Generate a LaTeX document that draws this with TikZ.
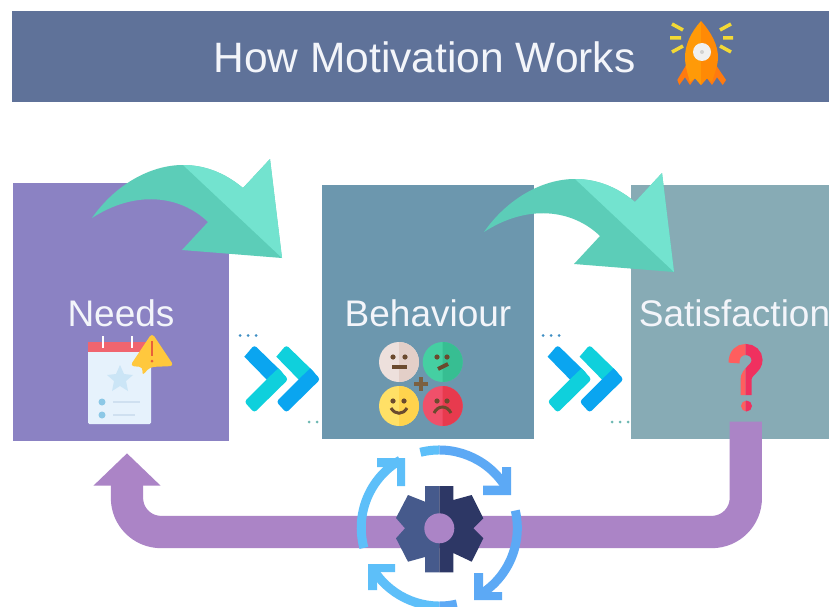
\documentclass[tikz,border=0pt]{standalone}
\usepackage{fontspec}
\setmainfont{Liberation Sans}
\usetikzlibrary{arrows.meta}
\definecolor{headerc}{HTML}{5F7299}
\definecolor{needc}{HTML}{8B82C3}
\definecolor{behavc}{HTML}{6C97AE}
\definecolor{satc}{HTML}{87ABB5}
\definecolor{loopc}{HTML}{AB84C6}
\definecolor{tealD}{HTML}{5CCDB8}
\definecolor{tealL}{HTML}{73E3CF}
\definecolor{chevB}{HTML}{0AA5F0}
\definecolor{chevT}{HTML}{0FD0DC}
\definecolor{ringL}{HTML}{5DBFF9}
\definecolor{ringR}{HTML}{5CA9F5}
\definecolor{gearL}{HTML}{465A8C}
\definecolor{gearR}{HTML}{2D3765}
\definecolor{txt}{HTML}{F3F5FA}
\definecolor{feat}{HTML}{6B4A2E}
\definecolor{dotB}{HTML}{3F8FC4}
\definecolor{dotT}{HTML}{6DB8B2}
\definecolor{rayc}{HTML}{F3D935}
\definecolor{rockL}{HTML}{FF9A08}
\definecolor{rockR}{HTML}{FF8A05}
\definecolor{rockF}{HTML}{FF7A10}
\definecolor{paper}{HTML}{E6F2FC}
\definecolor{calred}{HTML}{F0656F}
\definecolor{starc}{HTML}{CBE5F6}
\definecolor{bullet}{HTML}{8CC8E6}
\definecolor{rowc}{HTML}{CFE0F0}
\definecolor{warnc}{HTML}{FFC83D}
\definecolor{warnx}{HTML}{E8603A}
\definecolor{plusc}{HTML}{7B6040}
\definecolor{qL}{HTML}{FF5E5E}
\definecolor{qR}{HTML}{F0305F}
\definecolor{neutL}{HTML}{EDE0DC}
\definecolor{neutR}{HTML}{E3CFC8}
\definecolor{grnL}{HTML}{45CFA2}
\definecolor{grnR}{HTML}{37BE92}
\definecolor{yelL}{HTML}{FFE066}
\definecolor{yelR}{HTML}{FFD34D}
\definecolor{redL}{HTML}{F0506A}
\definecolor{redR}{HTML}{E83A4E}
\tikzset{
  panel/.style={rectangle,inner sep=0pt,outer sep=0pt,draw=none},
  label/.style={inner sep=0pt,text=txt,anchor=base,font=\fontsize{37}{37}\selectfont},
  dotty/.style={circle,inner sep=0pt,minimum size=3pt},
  loopline/.style={draw=loopc,line width=32.3pt,rounded corners=34pt,-{Triangle[length=32.4pt,width=65.3pt]}},
  ringline/.style={line width=9pt},
  featline/.style={draw=feat,line width=3pt},
  rayline/.style={draw=rayc,line width=3.5pt},
}
\newcommand{\bentarrow}{%
  \fill[tealD] (92,218) .. controls (115,185) and (150,165) .. (183,165)
     .. controls (205,165) and (225,173) .. (243,188)
     -- (270,159) -- (282,258) -- (182,250) -- (208,222)
     .. controls (180,195) and (135,190) .. (92,218) -- cycle;
  \fill[tealL] (183,165) .. controls (205,165) and (225,173) .. (243,188)
     -- (270,159) -- (282,258) -- cycle;
}
\newcommand{\onechev}[2]{%
  \fill[#1,rounded corners=3pt] (244.3,356.7) -- (254.3,345) -- (284,374) [sharp corners] -- (272,385) -- cycle;
  \fill[#2] (266.7,379.3) -- (278.3,368.3) [rounded corners=3pt] -- (288.3,379.3) -- (254.3,412.7) -- (244.3,401.7) [sharp corners] -- cycle;
}
\newcommand{\ringparts}[1]{%
  \draw[ringline,#1] (420.4,452.3) arc[start angle=-104,end angle=-33,radius=78];
  \fill[#1] (502,467) -- (511,467) -- (511,495) -- (483,495) -- (483,485.5) -- (502,485.5) -- cycle;
  \draw[ringline,#1] (515.3,510.5) arc[start angle=-13,end angle=60,radius=78];
  \fill[#1] (474,573) -- (483,573) -- (483,592) -- (502,592) -- (502,600) -- (474,600) -- cycle;
  \draw[ringline,#1] (363.9,547.9) arc[start angle=165,end angle=240,radius=78];
  \fill[#1] (377,458) -- (405,458) -- (405,486) -- (397,486) -- (397,467) -- (377,467) -- cycle;
  \draw[ringline,#1] (374.4,571.3) arc[start angle=146.3,end angle=77,radius=78];
  \fill[#1] (368,564) -- (395,564) -- (395,572) -- (377,572) -- (377,590) -- (368,590) -- cycle;
}
\newcommand{\facedisc}[4]{%
  \fill[#3] (#1,#2) circle[radius=20];
  \begin{scope}\clip (#1,#2-21) rectangle (#1+21,#2+21);\fill[#4] (#1,#2) circle[radius=20];\end{scope}
}
\begin{document}
\begin{tikzpicture}[x=1pt,y=-1pt]
\useasboundingbox (0,0) rectangle (829,607);
\clip (0,0) rectangle (829,607);
\fill[white] (0,0) rectangle (829,607);

% header
\node[panel,fill=headerc,minimum width=817pt,minimum height=91pt,anchor=north west] (header) at (12,11) {};
\node[label,font=\fontsize{42.5}{42.5}\selectfont] (title) at (424.5,73) {How Motivation Works};

% panels
\node[panel,fill=needc,minimum width=216pt,minimum height=258pt,anchor=north west] (needs) at (13,183) {};
\node[panel,fill=behavc,minimum width=212pt,minimum height=254pt,anchor=north west] (behaviour) at (322,185) {};
\node[panel,fill=satc,minimum width=198pt,minimum height=254pt,anchor=north west] (satisfaction) at (631,185) {};
\node[label] (needst) at (121,326) {Needs};
\node[label] (behavt) at (428,326) {Behaviour};
\node[label] (satt) at (734.5,326) {Satisfaction};

% teal arrows
\bentarrow
\begin{scope}[shift={(392,14)}]\bentarrow\end{scope}

% chevrons
\foreach \dx in {0,303.3}{
  \begin{scope}[shift={(\dx,0)}]
    \onechev{chevB}{chevT}
    \begin{scope}[shift={(32,0)}]\onechev{chevT}{chevB}\end{scope}
  \end{scope}
}
% dots
\foreach \x/\n in {240/a,248/b,256/c,543/d,551/e,559/f}
  \node[dotty,fill=dotB] (dot\n) at (\x,335.5) {};
\foreach \x/\n in {309/g,317/h,612/i,620/j,628/k}
  \node[dotty,fill=dotT] (dot\n) at (\x,422) {};

% rocket
\draw[rayline] (672,24) -- (683,30) (670,38) -- (681,38) (672,52) -- (683,46);
\draw[rayline] (731,24) -- (720,30) (733,38) -- (723,38) (731,52) -- (720,46);
\fill[rockF] (686.7,64) -- (677.3,80) -- (679.3,85) -- (685,77.3) -- (690,85) -- (695,78.3) -- (701,85)
  -- (707,78.3) -- (712,85) -- (717,77.3) -- (722.7,85) -- (726,80) -- (715.3,64) -- cycle;
\fill[rockL] (701,21) .. controls (691,32) and (685,45) .. (685,57) .. controls (685,65) and (687,72) .. (690,82) -- (695,78.3) -- (701,85) -- cycle;
\fill[rockR] (701,21) .. controls (711,32) and (718,45) .. (718,57) .. controls (718,65) and (715,72) .. (712,82) -- (707,78.3) -- (701,85) -- cycle;
\fill[black!6] (702,52) circle[radius=9];
\fill[black!18] (702,52) circle[radius=2];

% calendar
\fill[paper,rounded corners=1.5pt] (88,342) rectangle (151,424);
\fill[calred] (88,342) rectangle (151,352);
\draw[white,line width=2.4pt] (103,336) -- (103,348) (132,336) -- (132,348);
\fill[starc] (120,365) -- (124,374) -- (133,375) -- (126,381) -- (128,391) -- (120,386) -- (112,391) -- (114,381) -- (107,375) -- (116,374) -- cycle;
\fill[bullet] (102,402) circle[radius=3.5] (102,415) circle[radius=3.5];
\draw[rowc,line width=1.5pt] (113,402) -- (140,402) (113,415) -- (135,415);
\fill[warnc,rounded corners=4pt] (152,333) -- (174,366) -- (150,367) -- (142,376) -- (143,367) -- (130,366) -- cycle;
\draw[warnx,line width=2.2pt] (152,341) -- (152,356);
\fill[warnx] (152,361) circle[radius=1.5];

% faces
\facedisc{399}{362}{neutL}{neutR}
\facedisc{442.7}{362}{grnL}{grnR}
\facedisc{399}{406}{yelL}{yelR}
\facedisc{442.7}{406}{redL}{redR}
\fill[feat] (393,357) circle[radius=2.6] (405,357) circle[radius=2.6]
  (437,357) circle[radius=2.6] (447,357) circle[radius=2.6]
  (393,401) circle[radius=2.6] (404,401) circle[radius=2.6]
  (437,401) circle[radius=2.6] (447,401) circle[radius=2.6];
\draw[featline,line width=4pt] (392,367) -- (407,367);
\draw[featline,line width=4pt] (438,369) -- (448,364);
\draw[featline] (391,408) .. controls (395,415) and (403,415) .. (407,408);
\draw[featline] (434,413) .. controls (438,405) and (447,405) .. (451,413);
\draw[draw=plusc,line width=4pt] (414,384) -- (428,384) (421,377) -- (421,391);

% loop connector
\coordinate (loopstart) at (745.8,421.7);
\coordinate (loopc1) at (745.8,532);
\coordinate (loopc2) at (127,532);
\coordinate (looptip) at (127,453.3);
\draw[loopline] (loopstart) -- (loopc1) -- (loopc2) -- (looptip);

% question mark
\begin{scope}
  \clip (700,330) rectangle (745.5,420);
  \draw[line width=11pt,draw=qL] (734,363) .. controls (734,354) and (739,349.5) .. (745.7,349.5) .. controls (752,349.5) and (757,354) .. (757,360) .. controls (757,369) and (746,371) .. (746,380) -- (746,395);
  \fill[qL] (746.5,406) circle[radius=5.5];
\end{scope}
\begin{scope}
  \clip (745.5,330) rectangle (790,420);
  \draw[line width=11pt,draw=qR] (734,363) .. controls (734,354) and (739,349.5) .. (745.7,349.5) .. controls (752,349.5) and (757,354) .. (757,360) .. controls (757,369) and (746,371) .. (746,380) -- (746,395);
  \fill[qR] (746.5,406) circle[radius=5.5];
\end{scope}

% rings
\begin{scope}
  \clip (0,0) rectangle (439.3,607);
  \ringparts{ringL}
\end{scope}
\begin{scope}
  \clip (439.3,0) rectangle (829,607);
  \ringparts{ringR}
\end{scope}

% gear
\fill[gearL] (425,486) -- (439.3,486) -- (439.3,572.3) -- (425,572.3) -- (425,557) -- (408,561.7) -- (396,538.3) -- (405,528.3) -- (396,518) -- (408,495) -- (425,501.7) -- cycle;
\fill[gearR] (439.3,486) -- (453.3,486) -- (453.3,500) -- (471.7,495) -- (483.3,518.3) -- (473.3,528.3) -- (483.3,538.3) -- (471.7,561.7) -- (453.3,553) -- (453.3,572.3) -- (439.3,572.3) -- cycle;
\fill[loopc] (439.3,528.3) circle[radius=15];
\end{tikzpicture}
\end{document}
